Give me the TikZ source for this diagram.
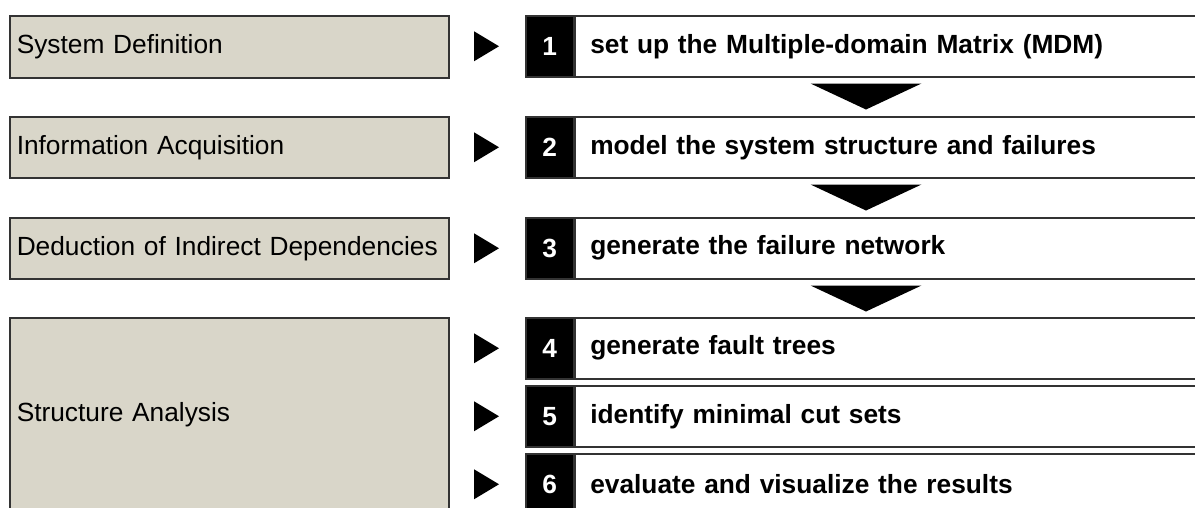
\documentclass[tikz,border=0pt]{standalone}
\usepackage{fontspec}
\setmainfont{Liberation Sans}
\usetikzlibrary{calc,positioning}
\definecolor{phasegray}{RGB}{217,214,201}
\colorlet{frameline}{black!80}
\newcommand{\phasebox}[4]{%
  \node[phase,minimum height=#3pt] (#1) at (9,#2) {\mbox{#4}};}
\newcommand{\stepbox}[4]{%
  \node[stepnum] (#1n) at (525,#2) {#3};
  \node[steptext,right=0pt of #1n] (#1t) {\mbox{#4}};
  \fill ($(#1n.west)+(-26,0)$) -- ++(-25,-15) -- ++(0,30) -- cycle;}
\newcommand{\downtip}[1]{%
  \fill ($(#1n.south west)!0.5!(#1t.south east)+(-55.5,6)$) -- ++(111,0) -- ++(-55.5,26) -- cycle;}
\tikzset{
  phase/.style={draw=frameline,line width=1.5pt,fill=phasegray,anchor=north west,
    text width=425pt,inner xsep=7pt,align=left,font=\fontsize{26.3}{30}\selectfont},
  stepnum/.style={draw=frameline,line width=1.5pt,fill=black,text=white,anchor=north west,
    minimum width=48pt,minimum height=61pt,inner sep=0pt,font=\fontsize{26.3}{30}\selectfont\bfseries},
  steptext/.style={draw=frameline,line width=1.5pt,fill=white,minimum height=61pt,
    text width=601pt,inner xsep=15pt,align=left,font=\fontsize{26.3}{30}\selectfont\bfseries}
}
\begin{document}
\begin{tikzpicture}[x=1pt,y=-1pt]
\clip (0,0) rectangle (1195,507);
% phases on the left
\phasebox{def}{15}{62}{System Definition}
\phasebox{acq}{116}{61}{Information Acquisition}
\phasebox{ded}{217}{61}{Deduction of Indirect Dependencies}
\phasebox{ana}{317}{193}{Structure Analysis}
% steps on the right
\stepbox{s1}{15}{1}{set up the Multiple-domain Matrix (MDM)}
\stepbox{s2}{116}{2}{model the system structure and failures}
\stepbox{s3}{217}{3}{generate the failure network}
\stepbox{s4}{317}{4}{generate fault trees}
\stepbox{s5}{385}{5}{identify minimal cut sets}
\stepbox{s6}{453}{6}{evaluate and visualize the results}
\downtip{s1} \downtip{s2} \downtip{s3}
\end{tikzpicture}
\end{document}
